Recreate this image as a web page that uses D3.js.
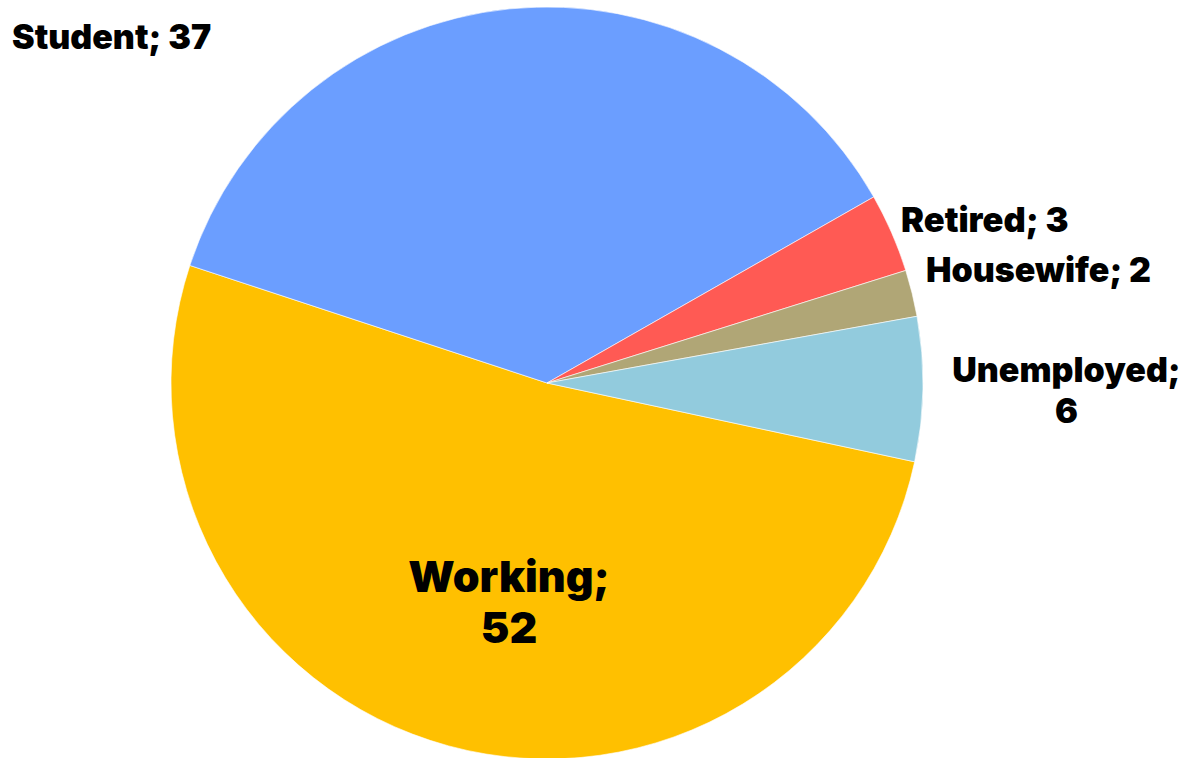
<!DOCTYPE html>
<html><head><meta charset="utf-8">
<script src="https://cdn.jsdelivr.net/npm/d3@7"></script>
<style>
html,body{margin:0;padding:0;background:#fff;}
text{font-family:"Inter","Liberation Sans",sans-serif;font-weight:900;fill:#000;}
</style></head>
<body><svg id="c" width="1191" height="758"></svg>
<script>
const categories = ["Working", "Student", "Retired", "Housewife", "Unemployed"];
const values = [51.7, 36.7, 3.4, 2.0, 6.2];
const colors = ["#FFC000", "#6B9EFF", "#FF5A54", "#B0A676", "#92CBDD"];

// layout (not data)
const cx = 547, cy = 383, R = 376;
const startDeg = 102.1;
const labelLayout = [
  {x: 509, y: 592, anchor: "middle", size: 43, lines: 2, lh: 51},
  {x: 12, y: 49, anchor: "start", size: 34, lines: 1, lh: 41},
  {x: 901, y: 232, anchor: "start", size: 34.5, lines: 1, lh: 41},
  {x: 926, y: 282, anchor: "start", size: 34, lines: 1, lh: 41},
  {x: 1066.5, y: 382, anchor: "middle", size: 34, lines: 2, lh: 41}
];

const data = categories.map((c, i) => ({cat: c, val: values[i], i}));
const svg = d3.select("#c");
const g = svg.append("g").attr("transform", `translate(${cx},${cy})`);
const start = startDeg * Math.PI / 180;
const pie = d3.pie().value(d => d.val).sort(null)
  .startAngle(start).endAngle(start + 2 * Math.PI);
const arc = d3.arc().innerRadius(0).outerRadius(R);
g.selectAll("path").data(pie(data)).join("path")
  .attr("d", arc)
  .attr("fill", d => colors[d.data.i])
  .attr("stroke", "#fff").attr("stroke-width", 0.6);

const fmt = d3.format(".0f");
data.forEach((d, i) => {
  const L = labelLayout[i];
  const t = svg.append("text")
    .attr("x", L.x).attr("y", L.y)
    .attr("text-anchor", L.anchor)
    .style("font-size", L.size + "px");
  if (L.lines === 2) {
    t.append("tspan").attr("x", L.x).text(d.cat + ";");
    t.append("tspan").attr("x", L.x).attr("dy", L.lh).text(fmt(d.val));
  } else {
    t.text(d.cat + "; " + fmt(d.val));
  }
});
</script></body></html>
